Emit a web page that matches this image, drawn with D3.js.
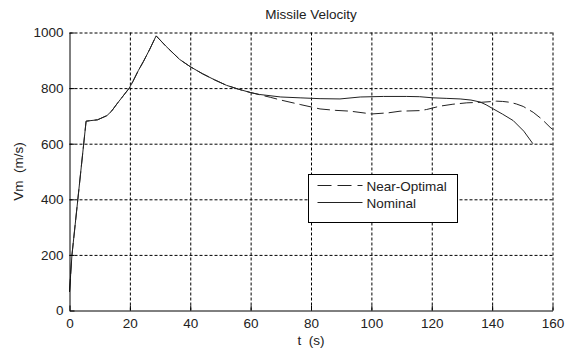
<!DOCTYPE html>
<html>
<head>
<meta charset="utf-8">
<script src="https://cdn.jsdelivr.net/npm/d3@7"></script>
<style>
  body { margin: 0; background: #fff; }
  text { font-family: "Liberation Sans", Arial, sans-serif; fill: #222; }
</style>
</head>
<body>
<div id="main"></div>
<script>
// --- chart data
const nominalT = [0, 0.8, 5.5, 9.3, 12.4, 14, 15.7, 17.5, 19.8, 21, 22.8, 24.5, 26.5, 28.7, 32, 36.5, 40, 44, 48, 52, 56, 60,
  63, 70, 76.4, 83, 89.6, 96.3, 104, 111.7, 116, 120.4, 125, 129.4, 133, 136, 138, 140.4, 143.5, 147, 150.5, 153.5];
const nominalV = [67, 198, 681, 686, 701, 718, 743, 768, 800, 824, 863, 896, 938, 988, 950, 903, 877, 852, 830, 810, 796, 784,
  777, 768, 765, 762, 761, 768, 770, 770, 769, 765, 763, 761, 757, 750, 740, 725, 706, 683, 645, 600];

const nearOptT = [0, 0.8, 5.5, 9.3, 12.4, 14, 15.7, 17.5, 19.8, 21, 22.8, 24.5, 26.5, 28.7, 32, 36.5, 40, 44, 48, 52, 56, 60,
  63, 66.5, 70, 76.4, 83, 88, 93, 100.1, 105.6, 109.5, 116, 118.3, 122.7, 127, 131.6, 136.5, 141.5, 143.5, 145.9, 148, 150.3, 153.6, 156.5, 159.2, 160];
const nearOptV = [67, 198, 681, 686, 701, 718, 743, 768, 800, 824, 863, 896, 938, 988, 950, 903, 877, 852, 830, 810, 796, 784,
  776, 767, 757, 741, 725, 720, 717, 707, 711, 717, 719, 723, 735, 742, 747, 749, 753, 752, 749, 743, 734, 713, 688, 659, 652];

const xTicks = [0, 20, 40, 60, 80, 100, 120, 140, 160];
const yTicks = [0, 200, 400, 600, 800, 1000];

const legendLabels = ['Near-Optimal', 'Nominal'];

// --- layout
const svgWidth = 565, svgHeight = 351;
const margin = { left: 69.5, right: 12.5, top: 32.5, bottom: 40.5 };
const chartWidth = svgWidth - margin.left - margin.right;
const chartHeight = svgHeight - margin.top - margin.bottom;

const svg = d3.select('#main')
  .append('svg')
  .attr('width', svgWidth)
  .attr('height', svgHeight);

const xScale = d3.scaleLinear().domain([0, 160]).range([0, chartWidth]);
const yScale = d3.scaleLinear().domain([0, 1000]).range([chartHeight, 0]);

const g = svg.append('g')
  .attr('transform', `translate(${margin.left}, ${margin.top})`);

// grid lines (dashed)
const xGrid = g.append('g')
  .attr('transform', `translate(0, ${chartHeight})`)
  .call(d3.axisBottom(xScale).tickValues(xTicks.slice(1)).tickSize(-chartHeight).tickFormat(''));
const yGrid = g.append('g')
  .call(d3.axisLeft(yScale).tickValues(yTicks.slice(1)).tickSize(-chartWidth).tickFormat(''));
[xGrid, yGrid].forEach(gr => {
  gr.select('.domain').remove();
  gr.selectAll('line')
    .attr('stroke', '#000')
    .attr('stroke-width', 1)
    .attr('stroke-dasharray', '3,2');
});

// curves
const line = d3.line()
  .x(d => xScale(d[0]))
  .y(d => yScale(d[1]));

const nominal = nominalT.map((t, i) => [t, nominalV[i]]);
const nearOpt = nearOptT.map((t, i) => [t, nearOptV[i]]);

g.append('path')
  .datum(nearOpt)
  .attr('fill', 'none')
  .attr('stroke', '#222')
  .attr('stroke-width', 1)
  .attr('stroke-dasharray', '13,5')
  .attr('d', line);

g.append('path')
  .datum(nominal)
  .attr('fill', 'none')
  .attr('stroke', '#222')
  .attr('stroke-width', 1)
  .attr('d', line);

// axes (inward ticks)
const xAxis = g.append('g')
  .attr('transform', `translate(0, ${chartHeight})`)
  .call(d3.axisBottom(xScale).tickValues(xTicks).tickSizeInner(-5).tickSizeOuter(0).tickPadding(8));
const yAxis = g.append('g')
  .call(d3.axisLeft(yScale).tickValues(yTicks).tickFormat(d3.format('d')).tickSizeInner(-5).tickSizeOuter(0).tickPadding(6));
[xAxis, yAxis].forEach(ax => {
  ax.select('.domain').attr('stroke', '#000');
  ax.selectAll('line').attr('stroke', '#000');
  ax.selectAll('text')
    .style('font-family', '"Liberation Sans", Arial, sans-serif')
    .style('font-size', '13.5px')
    .attr('fill', '#222');
});

// title and axis labels
svg.append('text')
  .attr('x', margin.left + chartWidth / 2)
  .attr('y', 19)
  .attr('text-anchor', 'middle')
  .style('font-size', '13.5px')
  .text('Missile Velocity');

svg.append('text')
  .attr('x', margin.left + chartWidth / 2)
  .attr('y', 345)
  .attr('text-anchor', 'middle')
  .style('font-size', '13.5px')
  .style('white-space', 'pre')
  .text('t  (s)');

svg.append('text')
  .attr('transform', `translate(23, ${margin.top + chartHeight / 2}) rotate(-90)`)
  .attr('text-anchor', 'middle')
  .style('font-size', '13.5px')
  .style('white-space', 'pre')
  .text('Vm  (m/s)');

// legend
const legend = svg.append('g').attr('transform', 'translate(308.5, 174.5)');
legend.append('rect')
  .attr('width', 149)
  .attr('height', 48)
  .attr('fill', '#fff')
  .attr('stroke', '#000');

legendLabels.forEach((label, i) => {
  const y = 11 + i * 17;
  legend.append('line')
    .attr('x1', 9).attr('x2', 54)
    .attr('y1', y).attr('y2', y)
    .attr('stroke', '#222')
    .attr('stroke-dasharray', i === 0 ? '14,6' : null);
  legend.append('text')
    .attr('x', 58)
    .attr('y', y + 5)
    .style('font-size', '13.5px')
    .text(label);
});
</script>
</body>
</html>
